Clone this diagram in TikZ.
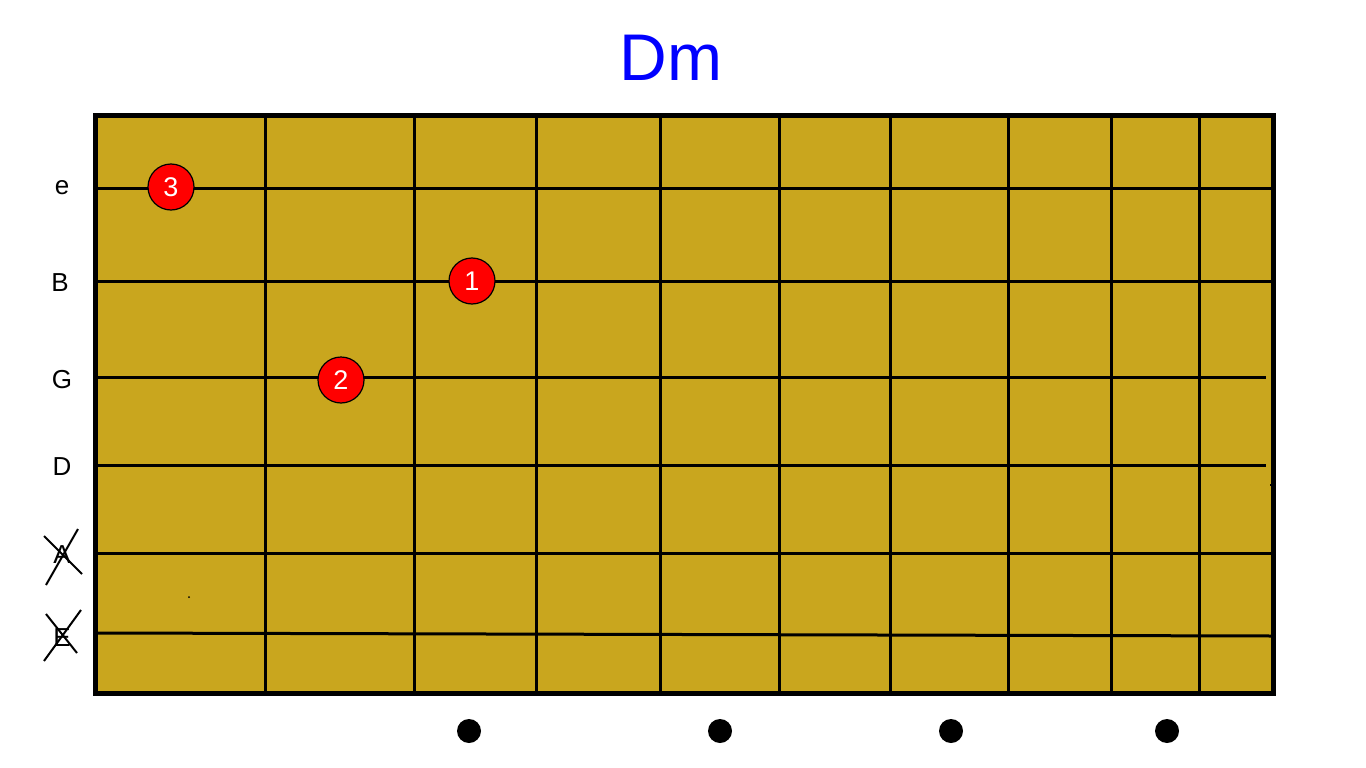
\documentclass[tikz,border=0pt]{standalone}
\usepackage{fontspec}
\setmainfont{Liberation Sans}
\usepackage{xcolor}
\usepackage{tikz}
\usetikzlibrary{positioning,calc}
\definecolor{boardcol}{RGB}{201,166,30}
\definecolor{titleblue}{RGB}{0,0,255}

\begin{document}
\begin{tikzpicture}[
  x=1pt, y=-1pt,
  stringlabel/.style={font=\fontsize{26}{30}\selectfont, anchor=center},
  finger/.style={circle, draw=black, line width=1.2pt, fill=red, text=white, minimum size=46pt, inner sep=0pt, font=\fontsize{27}{30}\selectfont},
  marker/.style={circle, fill=black, minimum size=24pt, inner sep=0pt},
  gridline/.style={line width=3pt},
  cross/.style={line width=2pt}
]
\useasboundingbox (0,0) rectangle (1366,768);

% title
\node[text=titleblue, font=\fontsize{66}{76}\selectfont] (title) at (671,58) {Dm};

% board
\fill[boardcol] (95,115) rectangle (1273,693);
\foreach \x in {265,414,536,660,779,890,1008,1111,1199}
  \draw[gridline] (\x,115) -- (\x,693);
\foreach \y in {188,281,553}
  \draw[gridline] (97,\y) -- (1271,\y);
\draw[gridline] (97,377) -- (1266,377);
\draw[gridline] (97,465) -- (1266,465);
\draw[gridline] (97,633) -- (1271,636);
\draw[line width=5pt] (95,115) rectangle (1273,693);
% stray marks
\fill (1270,484) rectangle (1274,486);
\fill (1272,636) rectangle (1276,639);
\fill (189,597) circle (1pt);

% string names
\node[stringlabel] (se) at (62,188) {e};
\node[stringlabel] (sB) at (60,283) {B};
\node[stringlabel] (sG) at (62,380) {G};
\node[stringlabel] (sD) at (62,467) {D};
\node[stringlabel] (sA) at (62,555) {A};
\node[stringlabel] (sE) at (62,638) {E};

% muted strings
\draw[cross] (44,536) -- (82,574);
\draw[cross] (78,529) -- (46,585);
\draw[cross] (46,614) -- (77,653);
\draw[cross] (81,610) -- (44,661);

% fingers
\node[finger] (f3) at (171,187) {3};
\node[finger] (f1) at (472,281) {1};
\node[finger] (f2) at (341,380) {2};

% fret markers
\node[marker] (m3) at (469,731) {};
\node[marker] (m5) at (720,731) {};
\node[marker] (m7) at (951,731) {};
\node[marker] (m9) at (1167,731) {};

\end{tikzpicture}
\end{document}
